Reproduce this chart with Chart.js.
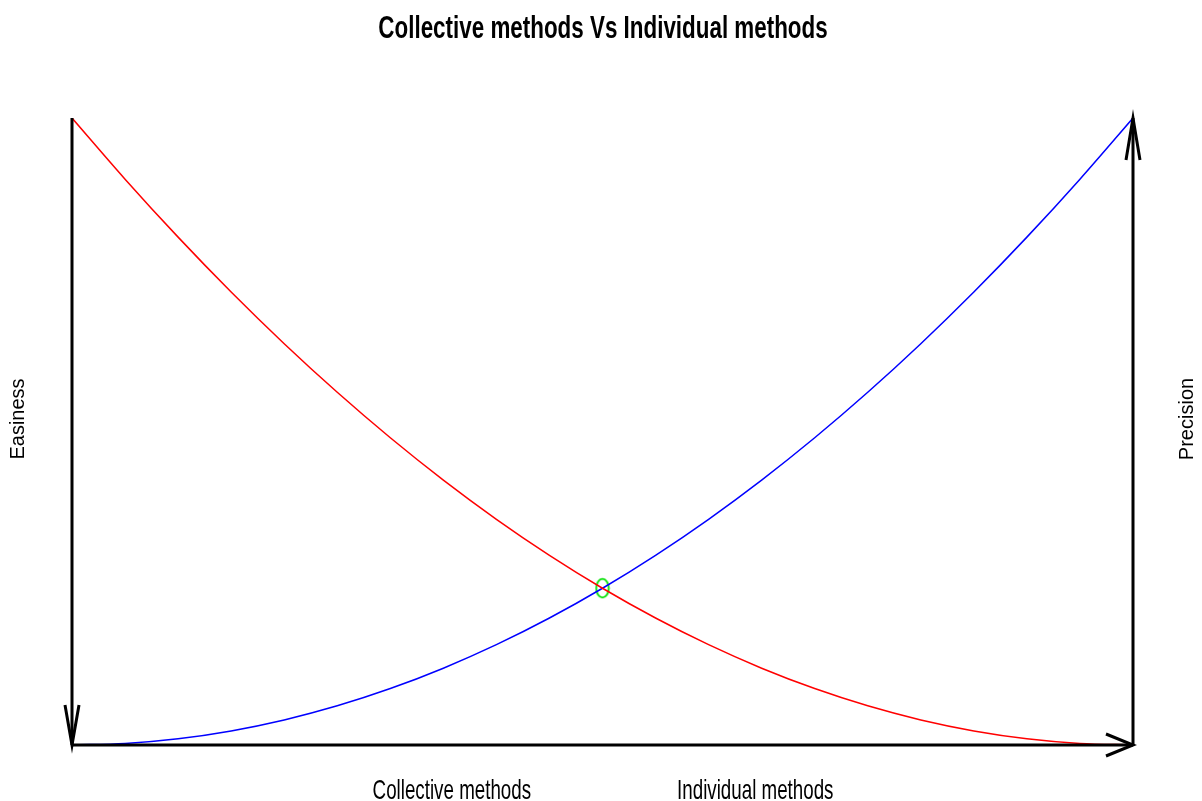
<!DOCTYPE html>
<html>
<head>
<meta charset="utf-8">
<script src="https://cdn.jsdelivr.net/npm/chart.js@4"></script>
<style>
html,body{margin:0;padding:0;background:#fff;}
#wrap{width:1202px;height:801px;}
</style>
</head>
<body>
<div id="wrap"><canvas id="c" width="1202" height="801"></canvas></div>
<script>
const chartTitle = 'Collective methods Vs Individual methods';
const xLevels = [0,0.05,0.1,0.15,0.2,0.25,0.3,0.35,0.4,0.45,0.5,0.55,0.6,0.65,0.7,0.75,0.8,0.85,0.9,0.95,1];
const easiness = [1,0.9025,0.81,0.7225,0.64,0.5625,0.49,0.4225,0.36,0.3025,0.25,0.2025,0.16,0.1225,0.09,0.0625,0.04,0.0225,0.01,0.0025,0];
const precision = [0,0.0025,0.01,0.0225,0.04,0.0625,0.09,0.1225,0.16,0.2025,0.25,0.3025,0.36,0.4225,0.49,0.5625,0.64,0.7225,0.81,0.9025,1];
const crossPoint = [{x:0.5, y:0.25}];
const tickLabels = ['Collective methods','Individual methods'];
const tickPositions = [0.358, 0.644];
const leftAxisLabel = 'Easiness';
const rightAxisLabel = 'Precision';

// ellipse marker
const mk = document.createElement('canvas');
mk.width = 16; mk.height = 22;
(function(){
  const g = mk.getContext('2d');
  g.strokeStyle = '#00e000'; g.lineWidth = 1.8;
  g.beginPath(); g.ellipse(8,11,6.3,9.3,0,0,Math.PI*2); g.stroke();
})();

const toPts = (ys) => ys.map((y,i)=>({x:xLevels[i], y}));

function arrow(ctx, x0,y0,x1,y1, len, half){
  ctx.beginPath(); ctx.moveTo(x0,y0); ctx.lineTo(x1,y1); ctx.stroke();
  const dx=x1-x0, dy=y1-y0, L=Math.hypot(dx,dy), ux=dx/L, uy=dy/L;
  const bx=x1-ux*len, by=y1-uy*len;
  ctx.beginPath();
  ctx.moveTo(bx - uy*half, by + ux*half);
  ctx.lineTo(x1,y1);
  ctx.lineTo(bx + uy*half, by - ux*half);
  ctx.stroke();
}

function narrowText(ctx, s, x, y, sx){
  ctx.save(); ctx.translate(x,y); ctx.scale(sx,1); ctx.fillText(s,0,0); ctx.restore();
}

const deco = {
  id:'deco',
  afterDatasetsDraw(chart){
    const ctx = chart.ctx, xs = chart.scales.x, ys = chart.scales.y;
    const l = xs.getPixelForValue(0), r = xs.getPixelForValue(1);
    const t = ys.getPixelForValue(1), b = ys.getPixelForValue(0);
    ctx.save();
    ctx.strokeStyle = '#000'; ctx.lineWidth = 3; ctx.lineCap='butt'; ctx.lineJoin='miter';
    arrow(ctx, l,t, l,b, 40, 7);
    arrow(ctx, l,b, r,b, 27, 11);
    arrow(ctx, r,b, r,t, 42, 7);
    ctx.fillStyle = '#000';
    ctx.textAlign='center'; ctx.textBaseline='alphabetic';
    ctx.font = 'bold 32px "Liberation Sans", Arial, sans-serif';
    narrowText(ctx, chartTitle, 603, 38, 0.70);
    ctx.font = '28px "Liberation Sans", Arial, sans-serif';
    tickLabels.forEach((s,i)=>{ narrowText(ctx, s, xs.getPixelForValue(tickPositions[i]), 799, 0.67); });
    ctx.textBaseline='middle';
    ctx.font = '20px "Liberation Sans", Arial, sans-serif';
    const my = 419;
    ctx.save(); ctx.translate(18, my); ctx.rotate(-Math.PI/2); ctx.fillText(leftAxisLabel,0,0); ctx.restore();
    ctx.save(); ctx.translate(1187, my); ctx.rotate(-Math.PI/2); ctx.fillText(rightAxisLabel,0,0); ctx.restore();
    ctx.restore();
  }
};

new Chart(document.getElementById('c'), {
  type:'scatter',
  data:{ datasets:[
    {data: toPts(easiness), showLine:true, borderColor:'#ff0000', borderWidth:1.5, pointRadius:0, cubicInterpolationMode:'monotone', fill:false},
    {data: toPts(precision), showLine:true, borderColor:'#0000ff', borderWidth:1.5, pointRadius:0, cubicInterpolationMode:'monotone', fill:false},
    {data: crossPoint, showLine:false, pointStyle: mk, pointRadius:8}
  ]},
  options:{
    responsive:false, animation:false, devicePixelRatio:1,
    layout:{padding:{left:72, right:69, top:118, bottom:56}},
    plugins:{legend:{display:false}, tooltip:{enabled:false}, title:{display:false}},
    scales:{
      x:{type:'linear', min:0, max:1, display:false},
      y:{type:'linear', min:0, max:1, display:false}
    }
  },
  plugins:[deco]
});
</script>
</body>
</html>
